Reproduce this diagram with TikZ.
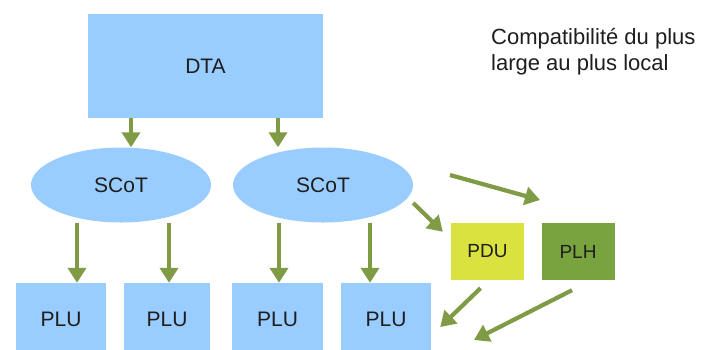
\documentclass[tikz,border=0pt]{standalone}
\usepackage{fontspec}
\setmainfont{Liberation Sans}
\usetikzlibrary{shapes.geometric,arrows.meta}
\definecolor{boxblue}{HTML}{99CCFF}
\definecolor{pduyellow}{HTML}{D9E23F}
\definecolor{plhgreen}{HTML}{78A33E}
\definecolor{arrowgreen}{HTML}{7F9B45}
\definecolor{inktext}{HTML}{1E1E1E}
\tikzset{
  bluebox/.style={rectangle, fill=boxblue, inner sep=0pt, text=inktext,
    font=\fontsize{21}{24}\selectfont},
  oval/.style={ellipse, fill=boxblue, inner sep=0pt, text=inktext,
    minimum width=180, minimum height=75, font=\fontsize{21}{24}\selectfont},
  plubox/.style={bluebox, minimum width=90, minimum height=72},
  smallbox/.style={rectangle, inner sep=0pt, minimum width=73, minimum height=57,
    text=inktext, font=\fontsize{19}{22}\selectfont},
  arr/.style={draw=arrowgreen, line width=4.2pt,
    -{Triangle[width=18pt,length=15pt]}},
}
\begin{document}
\begin{tikzpicture}[x=1pt,y=-1pt]
  \useasboundingbox[fill=white] (0,0) rectangle (708,349);

  % top level
  \node[bluebox, minimum width=235, minimum height=104] (dta) at (205.5,66) {DTA};

  % intermediate level
  \node[oval] (s1) at (121,185) {SCoT};
  \node[oval] (s2) at (323,185) {SCoT};

  % local plans
  \node[plubox] (plu1) at (61,319) {PLU};
  \node[plubox, minimum width=86] (plu2) at (167,319) {PLU};
  \node[plubox, minimum width=91] (plu3) at (277.5,319) {PLU};
  \node[plubox] (plu4) at (386,319) {PLU};

  \node[smallbox, fill=pduyellow] (pdu) at (487.5,251.5) {PDU};
  \node[smallbox, fill=plhgreen] (plh) at (578,251.5) {PLH};

  % caption
  \node[anchor=north west, align=left, inner sep=0pt, text=inktext,
        font=\fontsize{22}{26}\selectfont] (cap) at (491,28)
        {Compatibilité du plus\\large au plus local};

  % DTA to SCoT
  \draw[arr] ([shift={(10,0)}]s1.north |- dta.south) -- ([shift={(10,0)}]s1.north);
  \draw[arr] ([shift={(-45,0)}]s2.north |- dta.south) -- ([shift={(-45,0)}]s2.north);

  % SCoT to PLU
  \draw[arr] ([shift={(-44,0)}]s1.south) -- ([shift={(-44,0)}]s1.south |- plu1.north);
  \draw[arr] ([shift={(48,0)}]s1.south) -- ([shift={(48,0)}]s1.south |- plu2.north);
  \draw[arr] ([shift={(-44,0)}]s2.south) -- ([shift={(-44,0)}]s2.south |- plu3.north);
  \draw[arr] ([shift={(47,0)}]s2.south) -- ([shift={(47,0)}]s2.south |- plu4.north);

  % SCoT to PDU, and the free arrow towards PLH
  \draw[arr] ([shift={(0,18)}]s2.east) -- ([shift={(-8,9)}]pdu.north west);
  \coordinate (fa) at (450,175);
  \coordinate (fb) at (540,200);
  \draw[arr] (fa) -- (fb);

  % PDU and PLH back to the PLU
  \draw[arr] ([shift={(-7,8)}]pdu.south) -- ([shift={(9,8)}]plu4.east);
  \coordinate (ht) at (474,340);
  \draw[arr] ([shift={(-6,10)}]plh.south) -- (ht);
\end{tikzpicture}
\end{document}
